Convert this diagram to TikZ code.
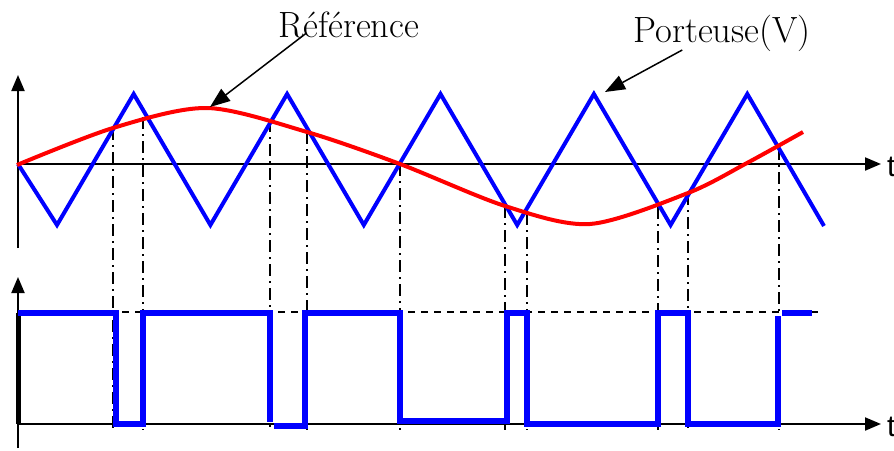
\documentclass[tikz,border=0pt]{standalone}
\usepackage{fontspec}
\newfontfamily\axfont{Liberation Sans}
\usetikzlibrary{positioning,arrows.meta,calc}

\begin{document}
\begin{tikzpicture}[
  x=1pt, y=-1pt,
  >={Triangle[length=16pt,width=13pt]},
  axe/.style={draw=black, line width=2pt},
  porteuse/.style={draw=blue, line width=4pt},
  refer/.style={draw=red, line width=4pt},
  mli/.style={draw=blue, line width=6pt},
  proj/.style={draw=black, line width=1.8pt, dash pattern=on 12pt off 5pt on 2pt off 5pt},
  niveau/.style={draw=black, line width=1.5pt, dash pattern=on 7pt off 6pt},
  legende/.style={font=\fontsize{36.5}{40}\selectfont, inner sep=0pt},
  axlabel/.style={font=\axfont\fontsize{30}{34}\selectfont, inner sep=0pt},
  fleche/.style={->, line width=1.5pt, >={Triangle[length=20pt,width=15pt]}}
]
\useasboundingbox (0,0) rectangle (894,450);

% repères
\coordinate (O1) at (18,164);
\coordinate (Y1) at (18,75);
\coordinate (X1) at (881,164);
\coordinate (O2) at (18,424);
\coordinate (Y2) at (18,277);
\coordinate (X2) at (881,424);
\coordinate (crete) at (210,107);
\coordinate (pointe) at (605,92);

% projections des intersections
\draw[proj] (113,128) -- (113,430);
\draw[proj] (143,117) -- (143,430);
\draw[proj] (270,120) -- (270,430);
\draw[proj] (307,132) -- (307,430);
\draw[proj] (400,164) -- (400,430);
\draw[proj] (505,206) -- (505,430);
\draw[proj] (527,213) -- (527,430);
\draw[proj] (658,207) -- (658,430);
\draw[proj] (688,193) -- (688,430);
\draw[proj] (779,148) -- (779,430);

\draw[niveau] (18,312) -- (824,312);

% axes
\draw[axe,->] (18,248) -- (Y1);
\draw[axe,->] (O1) -- (X1);
\draw[axe,->] (18,448) -- (Y2);
\draw[axe,->] (O2) -- (X2);
\node[axlabel, right=6pt of X1, yshift=-3pt] (t1) {t};
\node[axlabel, right=6pt of X2, yshift=-3pt] (t2) {t};

% porteuse triangulaire
\draw[porteuse] (O1) -- (57,225) -- (133.7,94) -- (210.4,225) -- (287.1,94)
  -- (363.8,225) -- (440.5,94) -- (517.2,225) -- (593.9,94) -- (670.6,225)
  -- (747.3,94) -- (824,226);

% référence sinusoïdale
\draw[refer] plot[smooth] coordinates {(17,165) (113,128) (207,108) (307,132)
  (400,164) (505,206) (590,224) (688,193) (747,163) (803,132)};

% signal MLI
\draw[black, line width=5pt] (18,313) -- (O2);
\draw[mli] (18,313) -- (116,313) -- (116,424) -- (143,424) -- (143,313)
  -- (270,313) -- (270,422);
\draw[mli] (274,426) -- (305,426) -- (305,313) -- (400,313) -- (400,421)
  -- (507,421) -- (507,313) -- (527,313) -- (527,424) -- (658,424)
  -- (658,313) -- (688,313) -- (688,424) -- (778,424) -- (778,316);
\draw[mli] (782,313) -- (812,313);

% légendes
\node[legende, anchor=base] (ref) at (349,37) {Référence};
\node[legende, anchor=base] (port) at (722,42) {Porteuse(V)};
\draw[fleche] ($(ref.base west)+(28,-4)$) -- (crete);
\draw[fleche] ($(port.base west)+(49,8)$) -- (pointe);
\end{tikzpicture}
\end{document}
